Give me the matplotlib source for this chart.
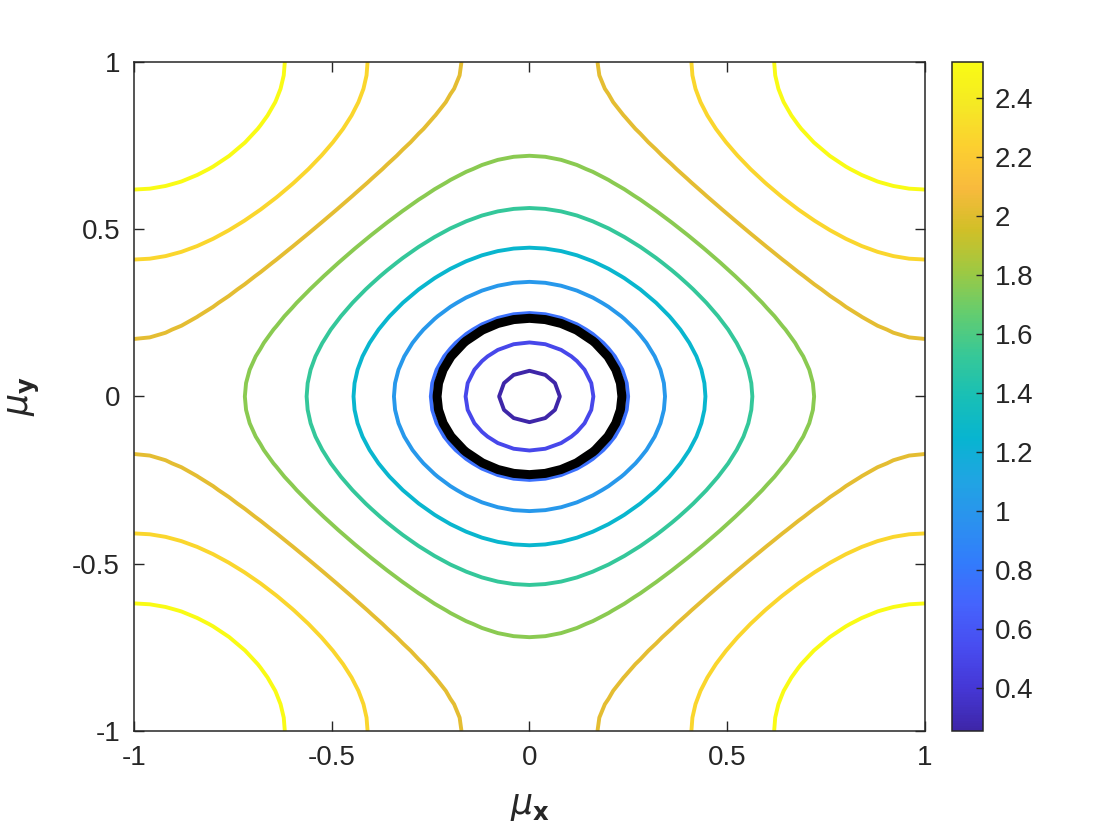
import matplotlib
matplotlib.use("Agg")
import matplotlib.pyplot as plt
import numpy as np
from matplotlib.colors import LinearSegmentedColormap, Normalize
from matplotlib.cm import ScalarMappable

# ---- data ----
mu_ticks = [-1, -0.5, 0, 0.5, 1]
mu_tick_labels = ["-1", "-0.5", "0", "0.5", "1"]
contour_levels = [0.6, 0.8, 1.0, 1.2, 1.4, 1.6, 1.8, 2.0, 2.2, 2.4]
black_level = [0.965]
gap_min = 0.416          # value at the centre of the zone
band_scale = 1.53        # growth towards the zone edge
cbar_range = (0.254, 2.522)
cbar_ticks = [0.4, 0.6, 0.8, 1.0, 1.2, 1.4, 1.6, 1.8, 2.0, 2.2, 2.4]
cbar_tick_labels = ["0.4", "0.6", "0.8", "1", "1.2", "1.4", "1.6", "1.8", "2", "2.2", "2.4"]
n_grid = 51

# parula (every 4th row of the 64-entry table)
parula_rows = [
    (0.2422, 0.1504, 0.6603), (0.2706, 0.2147, 0.8364), (0.2813, 0.3006, 0.9414),
    (0.2699, 0.3892, 0.9906), (0.1963, 0.4847, 0.9892), (0.1687, 0.5703, 0.9359),
    (0.1248, 0.6459, 0.8883), (0.0297, 0.7082, 0.8163), (0.0964, 0.7500, 0.7120),
    (0.2161, 0.7843, 0.5923), (0.3909, 0.8029, 0.4354), (0.6174, 0.7876, 0.2612),
    (0.8203, 0.7498, 0.1535), (0.9728, 0.7298, 0.2394), (0.9892, 0.8136, 0.1885),
    (0.9597, 0.9135, 0.1423), (0.9769, 0.9839, 0.0805),
]
parula = LinearSegmentedColormap.from_list("parula", parula_rows, N=256)

plt.rcParams['font.family'] = ['Liberation Sans', 'DejaVu Sans']
plt.rcParams['axes.unicode_minus'] = False

mx = np.linspace(-1, 1, n_grid)
my = np.linspace(-1, 1, n_grid)
MX, MY = np.meshgrid(mx, my)
Z = gap_min + band_scale * np.sqrt(np.sin(np.pi * MX / 2) ** 2 + np.sin(np.pi * MY / 2) ** 2)

fig = plt.figure(figsize=(11.2, 8.4), dpi=100)
ax = fig.add_axes([0.1196, 0.1298, 0.7063, 0.7964])
cax = fig.add_axes([0.8497, 0.1298, 0.0283, 0.7964])

ax.contour(MX, MY, Z, levels=contour_levels, cmap=parula,
           norm=Normalize(contour_levels[0], contour_levels[-1]), linewidths=2.8)
ax.contour(MX, MY, Z, levels=black_level, colors='k', linewidths=6.5)

ax.set_xlim(-1, 1)
ax.set_ylim(-1, 1)
ax.set_xticks(mu_ticks)
ax.set_xticklabels(mu_tick_labels)
ax.set_yticks(mu_ticks)
ax.set_yticklabels(mu_tick_labels)
ax.tick_params(direction='in', length=7, width=1, top=True, right=True,
               labelsize=20, colors='#262626', pad=10)
for s in ax.spines.values():
    s.set_color('#262626')
    s.set_linewidth(1.1)
ax.set_xlabel(r'$\mu_{\mathbf{x}}$', fontsize=25, color='#262626', labelpad=14)
ax.set_ylabel(r'$\mu_{\mathbf{y}}$', fontsize=25, color='#262626', labelpad=22)

sm = ScalarMappable(norm=Normalize(*cbar_range), cmap=parula)
cb = fig.colorbar(sm, cax=cax)
cb.set_ticks(cbar_ticks)
cb.set_ticklabels(cbar_tick_labels)
cb.ax.tick_params(direction='in', length=5, width=1, labelsize=20, colors='#262626', pad=8)
cb.outline.set_edgecolor('#262626')
cb.outline.set_linewidth(1.1)

fig.savefig('out.png', dpi=100, facecolor='white')
